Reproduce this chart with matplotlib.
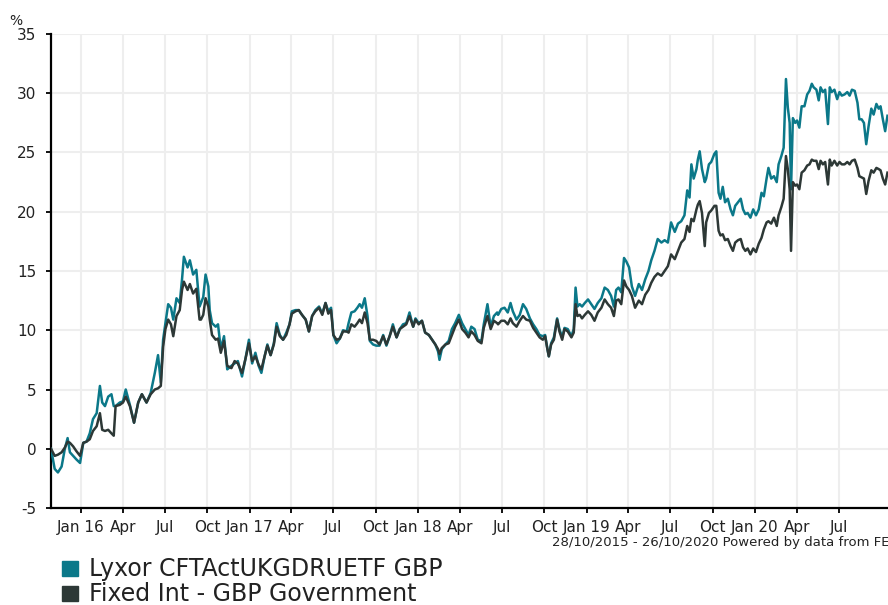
import matplotlib
matplotlib.use('Agg')
import matplotlib.pyplot as plt
import matplotlib.dates as mdates
from matplotlib.ticker import FuncFormatter
from matplotlib.patches import Rectangle
import pandas as pd

plt.rcParams['axes.unicode_minus'] = False

# cumulative performance (%)
DATES = [
    '2015-10-28', '2015-11-05', '2015-11-12', '2015-11-20', '2015-11-27', '2015-12-03', '2015-12-08', '2015-12-15',
    '2015-12-22', '2015-12-30', '2016-01-06', '2016-01-13', '2016-01-20', '2016-01-27', '2016-02-04', '2016-02-11',
    '2016-02-16', '2016-02-22', '2016-02-29', '2016-03-07', '2016-03-12', '2016-03-16', '2016-03-25', '2016-04-01',
    '2016-04-07', '2016-04-16', '2016-04-25', '2016-05-04', '2016-05-12', '2016-05-22', '2016-05-31', '2016-06-09',
    '2016-06-16', '2016-06-22', '2016-06-27', '2016-07-02', '2016-07-08', '2016-07-14', '2016-07-19', '2016-07-26',
    '2016-08-02', '2016-08-07', '2016-08-11', '2016-08-19', '2016-08-24', '2016-08-31', '2016-09-07', '2016-09-14',
    '2016-09-17', '2016-09-22', '2016-09-27', '2016-10-03', '2016-10-06', '2016-10-11', '2016-10-19', '2016-10-24',
    '2016-10-30', '2016-11-06', '2016-11-13', '2016-11-22', '2016-11-29', '2016-12-06', '2016-12-15', '2016-12-22',
    '2016-12-30', '2017-01-06', '2017-01-13', '2017-01-20', '2017-01-26', '2017-02-02', '2017-02-08', '2017-02-15',
    '2017-02-22', '2017-02-28', '2017-03-07', '2017-03-14', '2017-03-21', '2017-03-28', '2017-04-02', '2017-04-10',
    '2017-04-17', '2017-04-24', '2017-05-02', '2017-05-09', '2017-05-16', '2017-05-23', '2017-05-31', '2017-06-07',
    '2017-06-14', '2017-06-20', '2017-06-26', '2017-07-01', '2017-07-08', '2017-07-15', '2017-07-22', '2017-07-30',
    '2017-08-03', '2017-08-09', '2017-08-16', '2017-08-22', '2017-08-27', '2017-09-01', '2017-09-07', '2017-09-13',
    '2017-09-18', '2017-09-25', '2017-10-02', '2017-10-09', '2017-10-17', '2017-10-24', '2017-10-31', '2017-11-07',
    '2017-11-15', '2017-11-22', '2017-11-29', '2017-12-06', '2017-12-13', '2017-12-21', '2017-12-26', '2018-01-02',
    '2018-01-09', '2018-01-16', '2018-01-24', '2018-01-31', '2018-02-07', '2018-02-13', '2018-02-16', '2018-02-21',
    '2018-03-01', '2018-03-08', '2018-03-15', '2018-03-22', '2018-03-30', '2018-04-06', '2018-04-13', '2018-04-20',
    '2018-04-26', '2018-05-03', '2018-05-10', '2018-05-18', '2018-05-23', '2018-05-31', '2018-06-07', '2018-06-14',
    '2018-06-21', '2018-06-23', '2018-06-30', '2018-07-07', '2018-07-14', '2018-07-20', '2018-07-25', '2018-08-02',
    '2018-08-09', '2018-08-16', '2018-08-23', '2018-08-31', '2018-09-07', '2018-09-14', '2018-09-21', '2018-09-28',
    '2018-10-03', '2018-10-08', '2018-10-11', '2018-10-16', '2018-10-22', '2018-10-29', '2018-11-03', '2018-11-09',
    '2018-11-14', '2018-11-21', '2018-11-29', '2018-12-04', '2018-12-08', '2018-12-12', '2018-12-17', '2018-12-22',
    '2018-12-28', '2019-01-04', '2019-01-11', '2019-01-18', '2019-01-25', '2019-02-02', '2019-02-09', '2019-02-16',
    '2019-02-23', '2019-03-01', '2019-03-06', '2019-03-11', '2019-03-17', '2019-03-23', '2019-03-28', '2019-04-03',
    '2019-04-09', '2019-04-16', '2019-04-24', '2019-05-01', '2019-05-08', '2019-05-15', '2019-05-21', '2019-05-28',
    '2019-06-04', '2019-06-12', '2019-06-19', '2019-06-26', '2019-07-03', '2019-07-11', '2019-07-18', '2019-07-25',
    '2019-08-01', '2019-08-07', '2019-08-12', '2019-08-16', '2019-08-21', '2019-08-27', '2019-08-30', '2019-09-03',
    '2019-09-08', '2019-09-14', '2019-09-17', '2019-09-23', '2019-09-28', '2019-10-05', '2019-10-09', '2019-10-14',
    '2019-10-18', '2019-10-23', '2019-10-28', '2019-11-03', '2019-11-09', '2019-11-14', '2019-11-19', '2019-11-25',
    '2019-12-01', '2019-12-06', '2019-12-11', '2019-12-16', '2019-12-22', '2019-12-28', '2020-01-03', '2020-01-09',
    '2020-01-15', '2020-01-20', '2020-01-26', '2020-01-30', '2020-02-05', '2020-02-11', '2020-02-17', '2020-02-21',
    '2020-02-27', '2020-03-03', '2020-03-08', '2020-03-12', '2020-03-16', '2020-03-19', '2020-03-23', '2020-03-28',
    '2020-04-01', '2020-04-06', '2020-04-11', '2020-04-17', '2020-04-23', '2020-04-28', '2020-05-03', '2020-05-07',
    '2020-05-13', '2020-05-18', '2020-05-22', '2020-05-27', '2020-06-01', '2020-06-07', '2020-06-11', '2020-06-15',
    '2020-06-21', '2020-06-27', '2020-07-02', '2020-07-07', '2020-07-13', '2020-07-19', '2020-07-24', '2020-07-29',
    '2020-08-04', '2020-08-10', '2020-08-14', '2020-08-19', '2020-08-24', '2020-08-29', '2020-09-03', '2020-09-09',
    '2020-09-14', '2020-09-20', '2020-09-25', '2020-09-29', '2020-10-04', '2020-10-09', '2020-10-14',
]

LYXOR = [
    0.0, -1.7, -2.0, -1.5, 0.0, 0.9, -0.3, -0.6, -0.9, -1.2, 0.5, 0.6, 1.3, 2.5, 3.0, 5.3,
    3.9, 3.6, 4.4, 4.6, 3.6, 3.6, 3.9, 4.0, 5.0, 3.7, 2.2, 3.9, 4.6, 3.9, 4.7, 6.4,
    7.9, 5.6, 9.2, 10.6, 12.2, 11.9, 10.9, 12.7, 12.3, 14.3, 16.2, 15.3, 15.9, 14.7, 15.1, 12.0,
    12.3, 12.8, 14.7, 13.7, 11.7, 10.6, 10.3, 10.5, 8.4, 9.5, 6.7, 7.0, 7.2, 7.4, 6.1, 7.5,
    9.2, 7.2, 8.1, 7.0, 6.4, 7.8, 8.8, 7.9, 8.9, 10.6, 9.6, 9.2, 9.8, 10.5, 11.6, 11.7,
    11.7, 11.3, 10.9, 9.9, 11.2, 11.7, 12.0, 11.4, 12.3, 11.6, 11.9, 9.6, 8.9, 9.3, 10.0, 9.9,
    10.6, 11.5, 11.6, 11.9, 12.2, 11.9, 12.7, 11.2, 9.1, 8.8, 8.7, 8.7, 9.6, 8.7, 9.5, 10.5,
    9.4, 10.1, 10.5, 10.6, 11.5, 10.3, 11.0, 10.6, 10.8, 9.8, 9.6, 9.2, 8.8, 8.2, 7.5, 8.4,
    8.8, 9.1, 10.1, 10.6, 11.3, 10.6, 10.1, 9.6, 10.3, 10.1, 9.2, 9.1, 10.5, 12.2, 10.3, 11.2,
    11.5, 11.3, 11.8, 11.9, 11.5, 12.3, 11.6, 10.9, 11.3, 12.2, 11.8, 11.0, 10.5, 10.1, 9.6, 9.5,
    9.6, 8.4, 7.8, 8.9, 9.4, 11.0, 10.1, 9.4, 10.2, 10.1, 9.5, 10.1, 13.6, 12.0, 12.2, 12.0,
    12.3, 12.6, 12.2, 11.8, 12.3, 12.7, 13.6, 13.4, 12.9, 12.0, 13.4, 13.6, 13.2, 16.1, 15.8, 15.3,
    13.7, 12.9, 13.9, 13.4, 14.3, 15.0, 15.9, 16.7, 17.7, 17.4, 17.6, 17.4, 19.1, 18.3, 19.0, 19.2,
    19.7, 21.8, 21.2, 24.0, 22.8, 23.6, 24.4, 25.1, 23.6, 22.5, 22.8, 24.0, 24.2, 24.9, 25.1, 21.6,
    21.1, 22.1, 20.8, 21.1, 20.2, 19.7, 20.5, 20.8, 21.1, 20.2, 19.8, 19.9, 19.5, 20.2, 19.7, 20.2,
    21.6, 21.3, 22.8, 23.7, 22.8, 23.0, 22.5, 24.0, 24.7, 25.4, 31.2, 28.8, 27.5, 21.9, 27.9, 27.5,
    27.7, 27.1, 28.9, 28.9, 29.9, 30.2, 30.8, 30.5, 30.3, 29.4, 30.5, 30.1, 30.3, 27.4, 30.5, 30.1,
    30.3, 29.5, 30.1, 29.8, 29.9, 30.1, 29.8, 30.3, 30.2, 29.2, 27.8, 27.8, 27.5, 25.7, 27.2, 28.7,
    28.2, 29.1, 28.7, 28.9, 27.8, 26.8, 28.1,
]

GILTS = [
    0.0, -0.6, -0.5, -0.3, 0.1, 0.6, 0.5, 0.2, -0.2, -0.6, 0.5, 0.6, 0.8, 1.5, 1.9, 3.0,
    1.6, 1.5, 1.6, 1.3, 1.1, 3.6, 3.7, 3.9, 4.4, 3.6, 2.2, 3.9, 4.6, 3.9, 4.6, 5.0,
    5.1, 5.3, 8.6, 10.1, 10.9, 10.5, 9.5, 11.2, 11.7, 13.4, 14.1, 13.4, 13.9, 13.1, 13.5, 10.9,
    10.9, 11.3, 12.7, 12.0, 10.9, 9.6, 9.2, 9.3, 8.1, 9.1, 7.0, 6.8, 7.4, 7.2, 6.4, 7.5,
    8.9, 7.4, 7.8, 7.1, 6.7, 7.8, 8.7, 7.9, 8.8, 10.3, 9.5, 9.2, 9.6, 10.5, 11.4, 11.6,
    11.7, 11.3, 10.9, 9.9, 11.2, 11.6, 11.9, 11.3, 12.3, 11.4, 11.7, 9.6, 9.2, 9.3, 9.9, 9.9,
    9.8, 10.5, 10.3, 10.6, 10.9, 10.6, 11.5, 10.6, 9.2, 9.2, 9.1, 8.8, 9.5, 8.8, 9.5, 10.3,
    9.4, 10.1, 10.3, 10.5, 11.2, 10.3, 10.9, 10.5, 10.8, 9.8, 9.6, 9.2, 8.8, 8.4, 8.0, 8.5,
    8.8, 8.9, 9.6, 10.3, 10.9, 10.1, 9.8, 9.4, 9.9, 9.6, 9.1, 8.9, 10.2, 11.2, 10.1, 10.8,
    10.6, 10.5, 10.8, 10.8, 10.5, 11.0, 10.6, 10.3, 10.8, 11.2, 10.9, 10.8, 10.2, 9.8, 9.4, 9.2,
    9.5, 8.4, 7.8, 8.8, 9.2, 10.9, 9.9, 9.2, 10.1, 9.9, 9.4, 9.8, 12.2, 11.2, 11.3, 11.0,
    11.3, 11.6, 11.3, 10.8, 11.5, 11.9, 12.6, 12.2, 11.9, 11.2, 12.5, 12.6, 12.2, 14.2, 13.7, 13.4,
    12.9, 11.9, 12.5, 12.2, 13.0, 13.4, 14.0, 14.5, 14.8, 14.6, 15.0, 15.4, 16.4, 16.0, 16.7, 17.4,
    17.7, 18.8, 18.3, 19.4, 19.2, 20.2, 20.6, 20.9, 19.9, 17.1, 19.1, 19.9, 20.1, 20.5, 20.5, 18.4,
    18.0, 18.1, 17.6, 17.7, 17.1, 16.7, 17.4, 17.6, 17.7, 17.0, 16.7, 16.9, 16.4, 16.9, 16.6, 17.3,
    17.8, 18.5, 19.1, 19.2, 19.0, 19.5, 18.8, 19.7, 20.4, 21.1, 24.7, 23.6, 21.9, 16.7, 22.5, 22.2,
    22.3, 21.9, 23.3, 23.5, 23.9, 24.0, 24.4, 24.3, 24.3, 23.6, 24.3, 24.0, 24.2, 22.3, 24.4, 23.9,
    24.3, 23.9, 24.2, 24.0, 24.0, 24.2, 24.0, 24.3, 24.4, 23.7, 23.0, 22.9, 22.8, 21.5, 22.6, 23.5,
    23.3, 23.7, 23.6, 23.5, 22.8, 22.3, 23.3,
]

SERIES_NAMES = ['Lyxor CFTActUKGDRUETF GBP', 'Fixed Int - GBP Government']
START, END = '2015-10-28', '2020-10-26'
FOOTER = '28/10/2015 - 26/10/2020 Powered by data from FE'

TEAL = '#0b7889'
DARK = '#2d3836'
GRID = '#eeeeee'

W, H = 888, 605
fig = plt.figure(figsize=(W / 100, H / 100), dpi=100)
ax = fig.add_axes([51 / W, 1 - 508 / H, 842 / W, 474 / H])

d = pd.to_datetime(DATES)
ax.plot(d, LYXOR, color=TEAL, lw=1.8, zorder=3)
ax.plot(d, GILTS, color=DARK, lw=1.8, zorder=4)

ax.set_xlim(pd.Timestamp(START), pd.Timestamp(END))
ax.set_ylim(-5, 35)
ax.set_yticks(range(-5, 36, 5))

ax.set_xticks(pd.date_range('2016-01-01', '2020-07-01', freq='QS'))
def fmt_date(v, pos):
    dt = mdates.num2date(v)
    return f"Jan {dt:%y}" if dt.month == 1 else dt.strftime('%b')
ax.xaxis.set_major_formatter(FuncFormatter(fmt_date))

ax.set_axisbelow(True)
ax.grid(True, color=GRID, lw=1.5)
for side in ('top', 'right'):
    ax.spines[side].set_visible(False)
for side in ('left', 'bottom'):
    ax.spines[side].set_linewidth(1.6)
    ax.spines[side].set_color('black')

ax.tick_params(axis='both', length=3.5, width=1.3, color='black', labelsize=11, labelcolor='#222222')
ax.tick_params(axis='y', pad=7)
ax.tick_params(axis='x', pad=5)

fig.text(16 / W, 1 - 25 / H, '%', ha='center', va='baseline', fontsize=10, color='#222222')
fig.text(889 / W, 1 - 546 / H, FOOTER, ha='right', va='baseline', fontsize=9.5, color='#222222')

# legend
for i, (name, col) in enumerate(zip(SERIES_NAMES, [TEAL, DARK])):
    base = 576 + 25 * i
    fig.patches.append(Rectangle((62 / W, 1 - base / H), 16 / W, 15 / H,
                                 transform=fig.transFigure, color=col))
    fig.text(89 / W, 1 - base / H, name, ha='left', va='baseline', fontsize=17, color='#222222')

fig.savefig('out.png', dpi=100)
